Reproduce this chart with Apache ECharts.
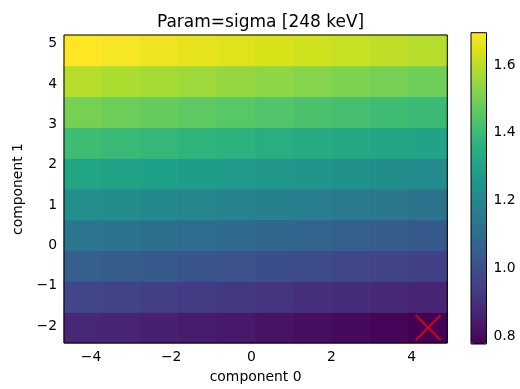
<!DOCTYPE html>
<html>
<head>
<meta charset="utf-8">
<script src="https://cdn.jsdelivr.net/npm/echarts@6/dist/echarts.min.js"></script>
<style>
  html, body { margin: 0; padding: 0; background: #fff; }
  #chart { width: 520px; height: 389px; }
</style>
</head>
<body>
<div id="chart"></div>
<script>
// Cell centres along each component
const xCenters = [-4.197, -3.241, -2.284, -1.328, -0.371, 0.585, 1.542, 2.498, 3.455, 4.411];
const yCenters = [-2.040, -1.276, -0.512, 0.252, 1.016, 1.780, 2.544, 3.308, 4.072, 4.836];

// sigma values, one row per yCenters entry (bottom to top), columns follow xCenters
const sigmaRows = [
  [0.880, 0.869, 0.858, 0.846, 0.835, 0.823, 0.812, 0.801, 0.789, 0.778],
  [0.970, 0.959, 0.948, 0.936, 0.925, 0.914, 0.902, 0.891, 0.880, 0.868],
  [1.052, 1.041, 1.030, 1.019, 1.007, 0.996, 0.985, 0.973, 0.962, 0.951],
  [1.135, 1.124, 1.113, 1.101, 1.090, 1.079, 1.068, 1.056, 1.045, 1.034],
  [1.228, 1.217, 1.206, 1.194, 1.183, 1.172, 1.160, 1.149, 1.138, 1.126],
  [1.315, 1.304, 1.292, 1.281, 1.270, 1.258, 1.247, 1.236, 1.224, 1.213],
  [1.408, 1.397, 1.386, 1.374, 1.363, 1.352, 1.340, 1.329, 1.318, 1.306],
  [1.500, 1.489, 1.477, 1.466, 1.455, 1.443, 1.432, 1.421, 1.409, 1.398],
  [1.592, 1.581, 1.569, 1.558, 1.547, 1.535, 1.524, 1.513, 1.501, 1.490],
  [1.695, 1.684, 1.672, 1.661, 1.650, 1.638, 1.627, 1.616, 1.604, 1.593]
];

const xTicks = [-4, -2, 0, 2, 4];
const yTicks = [-2, -1, 0, 1, 2, 3, 4, 5];
const colorbarTicks = [0.8, 1.0, 1.2, 1.4, 1.6];

const titleText = 'Param=sigma [248 keV]';
const xName = 'component 0';
const yName = 'component 1';

// viridis colormap
const viridis = ['#440154', '#48186a', '#472d7b', '#424086', '#3b528b', '#33638d',
  '#2c728e', '#26828e', '#21918c', '#1fa088', '#28ae80', '#3fbc73', '#5ec962',
  '#84d44b', '#addc30', '#d8e219', '#fde725'];

const FONT = 'DejaVu Sans';
const cellW = xCenters[1] - xCenters[0];
const cellH = yCenters[1] - yCenters[0];
const xMin = xCenters[0] - cellW / 2, xMax = xCenters[xCenters.length - 1] + cellW / 2;
const yMin = yCenters[0] - cellH / 2, yMax = yCenters[yCenters.length - 1] + cellH / 2;

const cells = [];
let vMin = Infinity, vMax = -Infinity, minCell = null;
sigmaRows.forEach((row, j) => row.forEach((v, i) => {
  cells.push([xCenters[i], yCenters[j], v]);
  if (v < vMin) { vMin = v; minCell = [xCenters[i], yCenters[j]]; }
  if (v > vMax) vMax = v;
}));

const minus = v => String(v).replace('-', '\u2212');
const tickText = { fontFamily: FONT, fontSize: 13.9, color: '#000' };

const chart = echarts.init(document.getElementById('chart'), null, { renderer: 'canvas' });
chart.setOption({
  animation: false,
  backgroundColor: '#fff',
  title: {
    text: titleText,
    left: 255.6, top: 9, textAlign: 'center',
    textStyle: { fontFamily: FONT, fontSize: 17, fontWeight: 'normal', color: '#000' }
  },
  grid: [
    { left: 64, top: 35, right: 72.7, bottom: 46, show: true, z: 10,
      borderColor: '#000', borderWidth: 1, backgroundColor: 'transparent' },
    { left: 471, top: 32.7, width: 15.5, height: 311.3, show: true, z: 10,
      borderColor: '#000', borderWidth: 1, backgroundColor: 'transparent' }
  ],
  xAxis: [
    { type: 'value', gridIndex: 0, min: xMin, max: xMax,
      name: xName, nameLocation: 'middle', nameGap: 27,
      nameTextStyle: { fontFamily: FONT, fontSize: 13.9, color: '#000' },
      splitLine: { show: false },
      axisLine: { show: true, lineStyle: { color: '#000', width: 1 } },
      axisTick: { show: true, customValues: xTicks, length: 3.5, lineStyle: { color: '#000' } },
      axisLabel: Object.assign({ customValues: xTicks, margin: 7, formatter: minus }, tickText) },
    { type: 'value', gridIndex: 1, min: 0, max: 1, show: false }
  ],
  yAxis: [
    { type: 'value', gridIndex: 0, min: yMin, max: yMax,
      name: yName, nameLocation: 'middle', nameGap: 39,
      nameTextStyle: { fontFamily: FONT, fontSize: 13.9, color: '#000' },
      splitLine: { show: false },
      axisLine: { show: true, lineStyle: { color: '#000', width: 1 } },
      axisTick: { show: true, customValues: yTicks, length: 3.5, lineStyle: { color: '#000' } },
      axisLabel: Object.assign({ customValues: yTicks, margin: 7, formatter: minus }, tickText) },
    { type: 'value', gridIndex: 1, min: vMin, max: vMax, position: 'right',
      splitLine: { show: false },
      axisLine: { show: false },
      axisTick: { show: true, customValues: colorbarTicks, length: 3.5, lineStyle: { color: '#000' } },
      axisLabel: Object.assign({ customValues: colorbarTicks, margin: 7,
        formatter: v => v.toFixed(1) }, tickText) }
  ],
  visualMap: {
    type: 'continuous',
    seriesIndex: 0,
    dimension: 2,
    min: vMin, max: vMax,
    orient: 'vertical',
    left: 471, top: 32.7,
    itemWidth: 15.5, itemHeight: 311.3,
    padding: 0,
    calculable: false,
    hoverLink: false,
    text: null,
    showLabel: false,
    inRange: { color: viridis }
  },
  series: [
    {
      type: 'custom',
      xAxisIndex: 0, yAxisIndex: 0,
      data: cells,
      renderItem: (params, api) => {
        const x = api.value(0), y = api.value(1);
        const p0 = api.coord([x - cellW / 2, y + cellH / 2]);
        const p1 = api.coord([x + cellW / 2, y - cellH / 2]);
        const c = api.visual('color');
        return {
          type: 'rect',
          shape: { x: p0[0], y: p0[1], width: p1[0] - p0[0], height: p1[1] - p0[1] },
          style: { fill: c, stroke: c, lineWidth: 1 }
        };
      }
    },
    {
      type: 'scatter',
      xAxisIndex: 0, yAxisIndex: 0,
      data: [minCell],
      symbol: 'path://M0,0L10,10M10,0L0,10',
      symbolSize: 25,
      z: 5,
      itemStyle: { color: 'transparent', borderColor: '#ff0000', borderWidth: 2 }
    }
  ]
});
</script>
</body>
</html>
